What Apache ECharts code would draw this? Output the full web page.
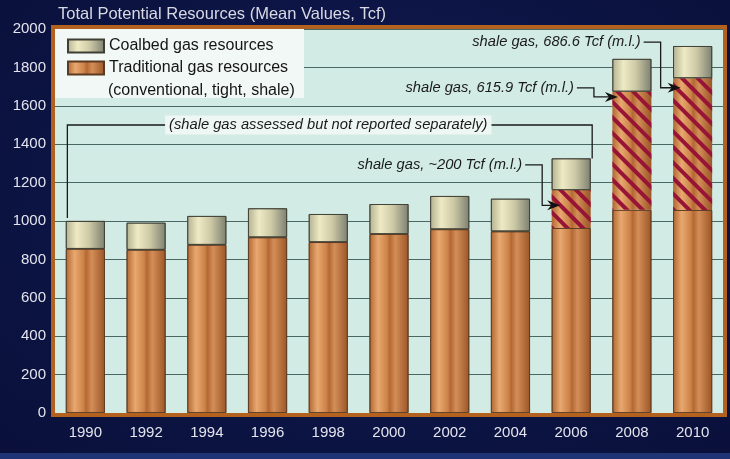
<!DOCTYPE html>
<html>
<head>
<meta charset="utf-8">
<script src="https://cdn.jsdelivr.net/npm/echarts@6/dist/echarts.min.js"></script>
<style>
  html, body { margin: 0; padding: 0; }
  body { background: radial-gradient(ellipse at 50% 45%, #131e58 0%, #0b1341 70%, #0a103a 100%); }
  #main { width: 730px; height: 459px; }
</style>
</head>
<body>
<div id="main"></div>
<script>
const years = ['1990', '1992', '1994', '1996', '1998', '2000', '2002', '2004', '2006', '2008', '2010'];
// traditional gas without the separately reported shale part
const conventional = [855, 850, 876, 915, 890, 932, 957, 946, 963, 1058, 1057];
const shale = [0, 0, 0, 0, 0, 0, 0, 0, 198, 616, 687];
const coalbed = [145, 141, 150, 151, 146, 156, 173, 170, 165, 170, 167];
const yTicks = [0, 200, 400, 600, 800, 1000, 1200, 1400, 1600, 1800, 2000];

const titleText = 'Total Potential Resources (Mean Values, Tcf)';
const noteText = '(shale gas assessed but not reported separately)';
const shaleNotes = ['', '', '', '', '', '', '', '', 'shale gas, ~200 Tcf (m.l.)', 'shale gas, 615.9 Tcf (m.l.)', 'shale gas, 686.6 Tcf (m.l.)'];

const G = { left: 55, right: 7, top: 29, bottom: 46 };
const FONT = 'Liberation Sans, Arial, sans-serif';

const orange = new echarts.graphic.LinearGradient(0, 0, 1, 0, [
  { offset: 0, color: '#b06630' },
  { offset: 0.22, color: '#e8a870' },
  { offset: 0.45, color: '#cc8348' },
  { offset: 0.52, color: '#b46834' },
  { offset: 0.66, color: '#d38e58' },
  { offset: 1, color: '#9c5526' }
]);
const beige = new echarts.graphic.LinearGradient(0, 0, 1, 0, [
  { offset: 0, color: '#b3b192' },
  { offset: 0.28, color: '#eeeac4' },
  { offset: 0.6, color: '#cdc9a6' },
  { offset: 1, color: '#7c8070' }
]);

const chart = echarts.init(document.getElementById('main'));

const option = {
  animation: false,
  textStyle: { fontFamily: FONT },
  grid: Object.assign({ show: true, backgroundColor: '#d2ebe4', borderWidth: 0 }, G),
  legend: {
    orient: 'vertical',
    left: 67, top: 38, padding: 0,
    icon: 'rect',
    itemWidth: 36, itemHeight: 13, itemGap: 6,
    data: ['Coalbed gas resources', 'Traditional gas resources'],
    textStyle: { color: '#151515', fontSize: 16 },
    z: 5
  },
  xAxis: {
    type: 'category',
    data: years,
    axisLine: { show: false },
    axisTick: { show: false },
    axisLabel: { color: '#e4e4ee', fontSize: 15, margin: 12 }
  },
  yAxis: {
    type: 'value',
    min: yTicks[0], max: yTicks[yTicks.length - 1], interval: 200,
    axisLine: { show: false },
    axisTick: { show: false },
    axisLabel: { color: '#e4e4ee', fontSize: 15, margin: 9, formatter: v => String(v) },
    splitLine: { lineStyle: { color: '#4a6863', width: 1.2 } }
  },
  series: [
    {
      name: 'Traditional gas resources',
      type: 'bar', stack: 'total', barWidth: 39,
      itemStyle: { color: orange, borderColor: '#5a3a22', borderWidth: 0.8 },
      data: conventional
    },
    {
      name: 'shale',
      type: 'bar', stack: 'total', barWidth: 39,
      itemStyle: {
        color: orange, borderWidth: 0,
        decal: {
          symbol: 'rect', symbolSize: 1,
          dashArrayX: [[1, 0]], dashArrayY: [4, 7],
          rotation: Math.PI / 4,
          color: '#981436'
        }
      },
      data: shale
    },
    {
      name: 'Coalbed gas resources',
      type: 'bar', stack: 'total', barWidth: 39,
      itemStyle: { color: beige, borderColor: '#3e3e34', borderWidth: 0.8 },
      data: coalbed
    }
  ]
};
chart.setOption(option);

// annotations placed from the axes' own scales
const xc = i => chart.convertToPixel({ xAxisIndex: 0 }, years[i]);
const yv = v => chart.convertToPixel({ yAxisIndex: 0 }, v);
const total = i => conventional[i] + shale[i] + coalbed[i];
const W = 730, H = 459;
const gx0 = G.left, gy0 = G.top, gx1 = W - G.right, gy1 = H - G.bottom;

const line = (pts) => ({
  type: 'polyline', z: 6, silent: true,
  shape: { points: pts },
  style: { stroke: '#1a1a1a', lineWidth: 1.3, fill: null }
});
const arrow = (x, y) => ({
  type: 'polygon', z: 7, silent: true,
  shape: { points: [[x, y], [x - 13, y - 5], [x - 9, y], [x - 13, y + 5]] },
  style: { fill: '#111' }
});
const note = (text, x, y, align, bg) => ({
  type: 'text', z: 8, silent: true,
  x: x, y: y,
  style: {
    text: text, fill: '#1a1a1a', fontStyle: 'italic', fontSize: 14.7,
    fontFamily: FONT,
    align: align, verticalAlign: 'middle',
    backgroundColor: bg || null, padding: bg ? [2, 4] : 0
  }
});

const els = [];
// frame and legend panel
els.push({ type: 'rect', z: 9, silent: true,
  shape: { x: gx0 - 2, y: gy0 - 2, width: gx1 - gx0 + 4, height: gy1 - gy0 + 4 },
  style: { fill: null, stroke: '#b3611f', lineWidth: 4 } });
els.push({ type: 'rect', z: 1, silent: true,
  shape: { x: gx0, y: gy0, width: 249, height: 69 },
  style: { fill: '#f1f8f5' } });
els.push({ type: 'text', z: 5, silent: true, x: 108, y: 91,
  style: { text: '(conventional, tight, shale)', fill: '#151515', fontSize: 16,
    fontFamily: FONT, verticalAlign: 'middle' } });
els.push({ type: 'text', z: 5, silent: true, x: 58, y: 14,
  style: { text: titleText, fill: '#d8d9e4', fontSize: 16.5,
    fontFamily: FONT, verticalAlign: 'middle' } });
els.push({ type: 'rect', z: 0, silent: true,
  shape: { x: 0, y: 453, width: W, height: 6 },
  style: { fill: '#1e3474' } });

// bracket over the years where shale was not reported separately
const yb = yv(1500);
els.push(line([[xc(0) - 18, yv(total(0) + 15)], [xc(0) - 18, yb], [xc(8) + 21, yb], [xc(8) + 21, yv(total(8))]]));
els.push(note(noteText, (xc(0) + xc(8)) / 2, yb, 'center', '#eef7f3'));

// shale call-outs
const calls = [
  { i: 8, ty: 1292, kx: -29, ax: -11, ay: conventional[8] + shale[8] * 0.6 },
  { i: 9, ty: 1693, kx: -38, ax: -14, ay: conventional[9] + shale[9] - 28 },
  { i: 10, ty: 1932, kx: -32, ax: -12, ay: conventional[10] + shale[10] - 50 }
];
calls.forEach(c => {
  const tx = xc(c.i) + c.kx - 17;
  const ty = yv(c.ty);
  const kx = xc(c.i) + c.kx;
  const ax = xc(c.i) + c.ax;
  const ay = yv(c.ay);
  els.push(note(shaleNotes[c.i], tx - 3, ty, 'right'));
  els.push(line([[tx, ty], [kx, ty], [kx, ay], [ax - 6, ay]]));
  els.push(arrow(ax, ay));
});

chart.setOption({ graphic: { elements: els } });
</script>
</body>
</html>
